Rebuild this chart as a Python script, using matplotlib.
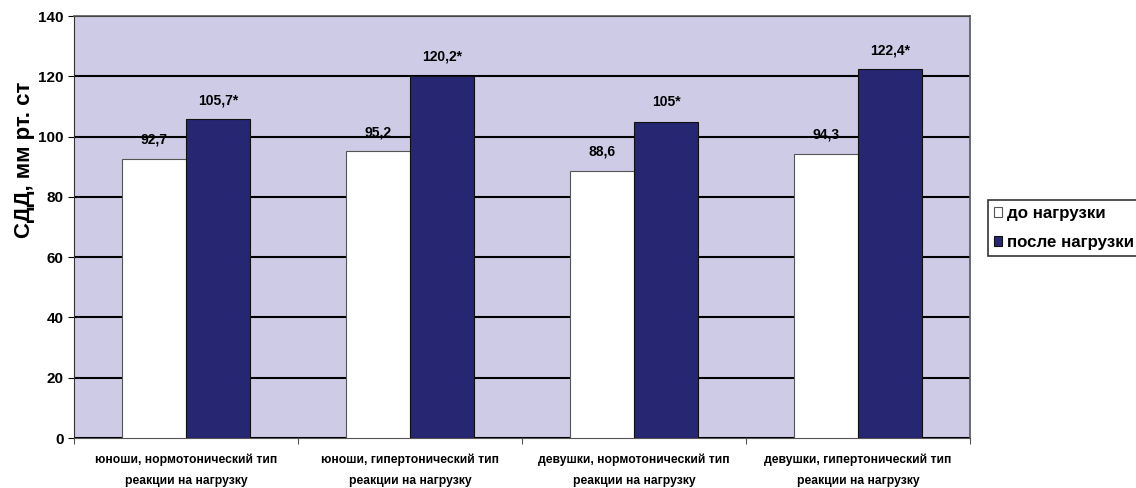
import numpy as np
import matplotlib.pyplot as plt

plt.rcParams['font.family'] = ['Liberation Sans', 'DejaVu Sans']
plt.rcParams['font.weight'] = 'bold'

categories = ['юноши, нормотонический тип\nреакции на нагрузку',
              'юноши, гипертонический тип\nреакции на нагрузку',
              'девушки, нормотонический тип\nреакции на нагрузку',
              'девушки, гипертонический тип\nреакции на нагрузку']
before = [92.7, 95.2, 88.6, 94.3]
after = [105.7, 120.2, 105.0, 122.4]
before_labels = ['92,7', '95,2', '88,6', '94,3']
after_labels = ['105,7*', '120,2*', '105*', '122,4*']
series_names = ['до нагрузки', 'после нагрузки']

fig = plt.figure(figsize=(11.36, 4.88), dpi=100)
ax = fig.add_axes([74 / 1136, 50 / 488, 896 / 1136, 422 / 488])
ax.set_facecolor('#CDCBE6')

x = np.arange(len(categories))
w = 0.286
b1 = ax.bar(x - w / 2, before, w, color='white', edgecolor='#555555', linewidth=0.8,
            label=series_names[0], zorder=3)
b2 = ax.bar(x + w / 2, after, w, color='#262673', edgecolor='#111111', linewidth=0.8,
            label=series_names[1], zorder=3)

# value labels sit ~19 px above the bar tops
for bars, labs in [(b1, before_labels), (b2, after_labels)]:
    for rect, lab in zip(bars, labs):
        ax.annotate(lab, (rect.get_x() + rect.get_width() / 2, rect.get_height()),
                    xytext=(0, 13.7), textcoords='offset points',
                    ha='center', va='center', fontsize=10, fontweight='bold')

ax.set_xlim(-0.5, len(categories) - 0.5)
ax.set_ylim(0, 140)
ax.set_yticks(np.arange(0, 141, 20))
ax.yaxis.grid(True, color='black', linewidth=1.5, zorder=1)
ax.set_axisbelow(True)

ax.set_xticks(np.arange(-0.5, len(categories), 1))
ax.set_xticklabels([])
ax.set_xticks(x, minor=True)
ax.set_xticklabels(categories, minor=True, fontsize=8.75, fontweight='bold', linespacing=1.9)
ax.tick_params(axis='x', which='minor', length=0, pad=11.5)
ax.tick_params(axis='x', which='major', length=4, direction='out', color='#555555')
ax.tick_params(axis='y', length=4, direction='out', labelsize=11)
for t in ax.get_yticklabels():
    t.set_fontweight('bold')

for s in ['top', 'right']:
    ax.spines[s].set_color('#555555')
    ax.spines[s].set_linewidth(1.2)
ax.spines['left'].set_color('#333333')
ax.spines['bottom'].set_color('#555555')

ax.set_ylabel('СДД, мм рт. ст', fontsize=16, fontweight='bold')
ax.yaxis.set_label_coords(-0.043, 0.66)

leg = fig.legend(handles=[b1, b2], loc='upper left', bbox_to_anchor=(988 / 1136, (488 - 200) / 488),
                 frameon=True, fancybox=False, edgecolor='black', fontsize=12.2,
                 handlelength=0.5, handleheight=0.5, handletextpad=0.25, borderpad=0.35,
                 labelspacing=0.85, borderaxespad=0)
leg.get_frame().set_linewidth(1.2)
for t in leg.get_texts():
    t.set_fontweight('bold')

fig.savefig('out.png', dpi=100)
